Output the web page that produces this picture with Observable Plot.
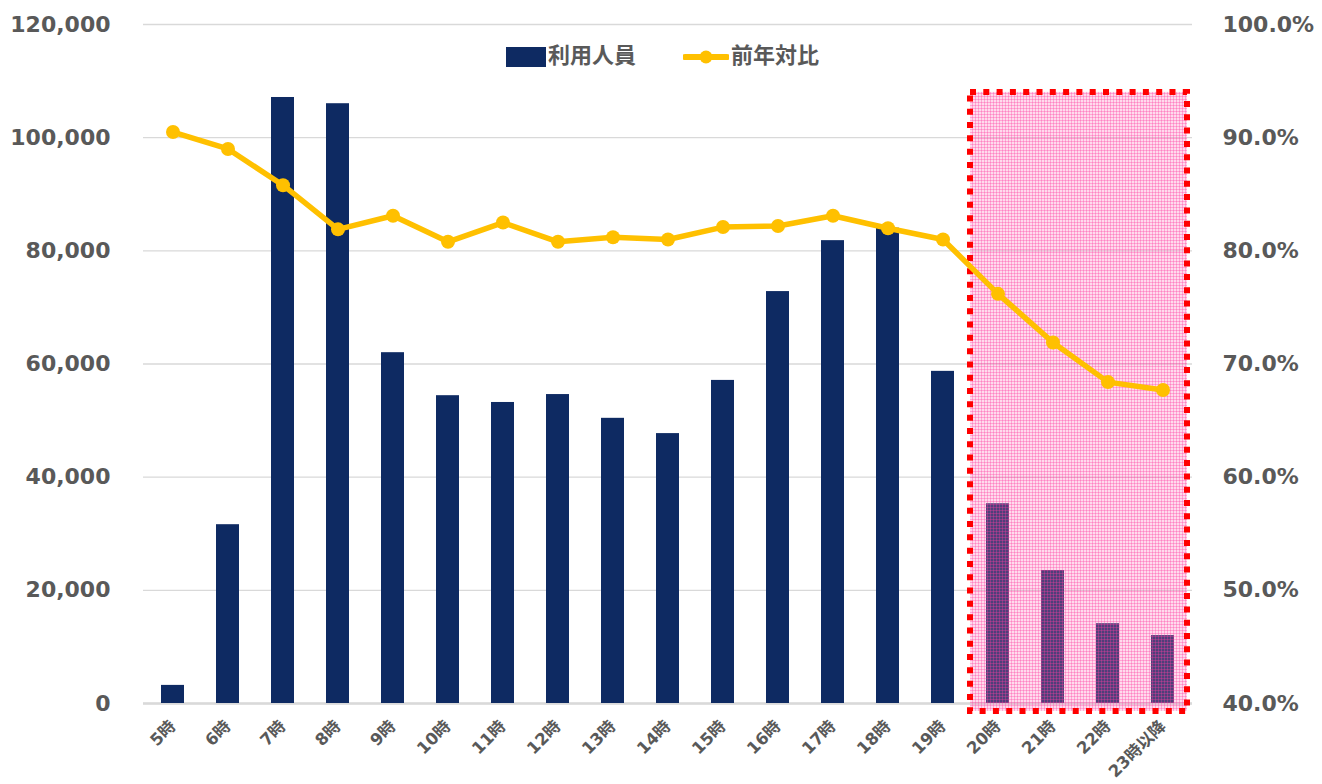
<!DOCTYPE html>
<html><head><meta charset="utf-8">
<script src="https://cdn.jsdelivr.net/npm/d3@7"></script>
<script src="https://cdn.jsdelivr.net/npm/@observablehq/plot@0.6"></script>
<style>
body{margin:0;background:#fff;}
#wrap{position:relative;width:1322px;height:784px;}
.lg{position:absolute;font:bold 22px "DejaVu Sans","Noto Sans CJK JP",sans-serif;color:#595959;line-height:22px;white-space:nowrap;}
</style></head><body>
<div id="wrap">
  <div id="chart"></div>
  <div class="lg" style="left:506px;top:47px;width:40px;height:20px;background:#0e2a62;"></div>
  <div class="lg" style="left:548px;top:45px;">利用人員</div>
  <svg class="lg" style="left:683px;top:47px;" width="46" height="20"><line x1="2" y1="10" x2="44" y2="10" stroke="#FFC000" stroke-width="6" stroke-linecap="round"/><circle cx="23" cy="10" r="6.5" fill="#FFC000"/></svg>
  <div class="lg" style="left:731px;top:45px;">前年対比</div>
</div>
<script>
const hours = ["5時","6時","7時","8時","9時","10時","11時","12時","13時","14時","15時","16時","17時","18時","19時","20時","21時","22時","23時以降"];
const riders = [3200,31600,107100,106000,62000,54400,53200,54600,50400,47700,57100,72800,81800,84000,58700,35300,23500,14100,12000];
const yoyPct = [90.5,89.0,85.8,81.9,83.1,80.8,82.5,80.8,81.2,81.0,82.1,82.2,83.1,82.0,81.0,76.2,71.9,68.4,67.7];
const leftTicks = [0,20000,40000,60000,80000,100000,120000];
const rightTickLabels = ["40.0%","50.0%","60.0%","70.0%","80.0%","90.0%","100.0%"];
const pctMin = 40, pctMax = 100, countMax = 120000;
const highlightHours = ["20時","21時","22時","23時以降"];
const highlightTop = 108000, highlightBottom = -1400;

// right axis (percent) mapped onto left count scale
const pctToY = p => (p - pctMin) / (pctMax - pctMin) * countMax;

const data = hours.map((h, i) => ({hour: h, riders: riders[i], yoy: pctToY(yoyPct[i])}));

function highlightMark(index, scales) {
  const x = scales.x, y = scales.y;
  const bw = x.bandwidth();
  const step = x(hours[1]) - x(hours[0]);
  const pad = (step - bw) / 2;
  const x1 = x(highlightHours[0]) - pad;
  const x2 = x(highlightHours[highlightHours.length - 1]) + bw + pad - 3;
  const y1 = y(highlightTop), y2 = y(highlightBottom);
  const g = d3.create("svg:g");
  const pat = g.append("defs").append("pattern")
    .attr("id", "pinkHatch").attr("patternUnits", "userSpaceOnUse")
    .attr("width", 3).attr("height", 3);
  pat.append("rect").attr("width", 3).attr("height", 3).attr("fill", "rgba(255,120,190,0.27)");
  pat.append("path").attr("d", "M0 0.5H3M0.5 0V3").attr("stroke", "rgba(255,60,160,0.33)").attr("stroke-width", 1);
  g.append("rect").attr("x", x1).attr("y", y1).attr("width", x2 - x1).attr("height", y2 - y1)
    .attr("fill", "url(#pinkHatch)");
  g.append("rect").attr("x", x1).attr("y", y1).attr("width", x2 - x1).attr("height", y2 - y1)
    .attr("fill", "none").attr("stroke", "#FF0000").attr("stroke-width", 6)
    .attr("stroke-dasharray", "6 7.3");
  return g.node();
}

const chart = Plot.plot({
  width: 1322,
  height: 784,
  marginLeft: 143,
  marginRight: 130,
  marginTop: 24,
  marginBottom: 81,
  style: {fontFamily: '"DejaVu Sans","Noto Sans CJK JP",sans-serif', fontWeight: "bold", color: "#595959", background: "#fff"},
  x: {type: "band", domain: hours, paddingInner: 0.58, paddingOuter: 0.29},
  y: {domain: [0, countMax]},
  marks: [
    Plot.gridY(leftTicks, {stroke: "#d9d9d9", strokeOpacity: 1, strokeWidth: 1.3}),
    Plot.ruleY([0], {stroke: "#d9d9d9", strokeWidth: 2.5}),
    Plot.barY(data, {x: "hour", y: "riders", fill: "#0e2a62"}),
    highlightMark,
    Plot.line(data, {x: "hour", y: "yoy", stroke: "#FFC000", strokeWidth: 5.5}),
    Plot.dot(data, {x: "hour", y: "yoy", r: 7, fill: "#FFC000"}),
    Plot.axisY(leftTicks, {anchor: "left", tickSize: 0, tickPadding: 33, fontSize: 22, tickFormat: d3.format(","), fill: "#595959"}),
    Plot.axisY(leftTicks, {anchor: "right", tickSize: 0, tickPadding: 30, fontSize: 22, tickFormat: d => rightTickLabels[leftTicks.indexOf(d)], fill: "#595959"}),
    Plot.axisX(hours, {tickSize: 0, tickPadding: 20, tickRotate: -45, fontSize: 16.5, fill: "#595959", label: null})
  ]
});
document.getElementById("chart").appendChild(chart);
</script>
</body></html>
